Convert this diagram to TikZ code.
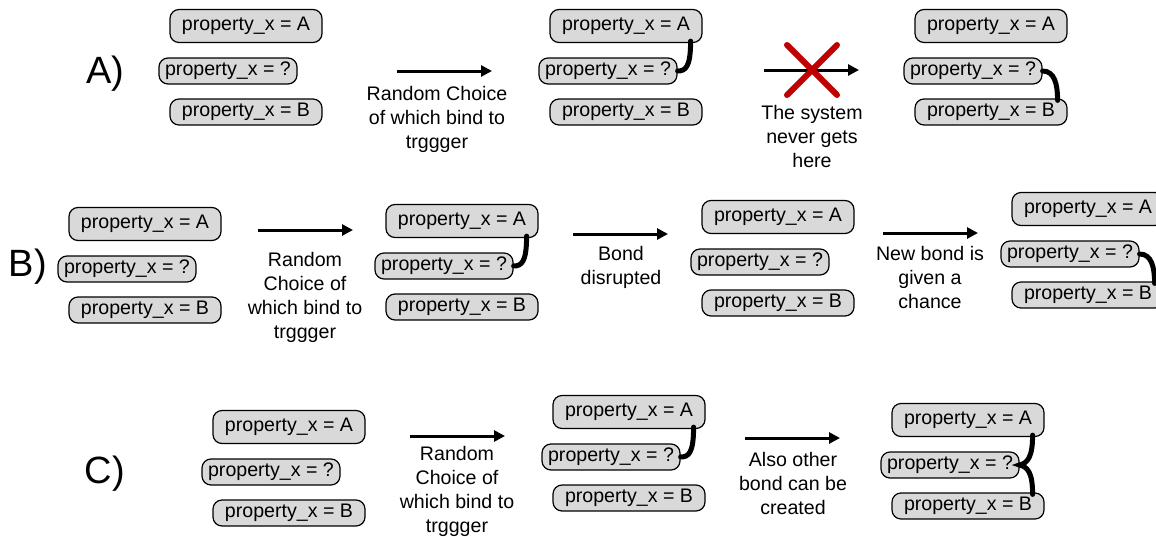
\documentclass[tikz,border=0pt]{standalone}
\usepackage{fontspec}
\setmainfont{Liberation Sans}
\usetikzlibrary{arrows.meta}
\definecolor{boxgray}{RGB}{217,217,217}
\definecolor{crossred}{RGB}{192,0,0}

\tikzset{
  prop/.style={draw, line width=0.6pt, fill=boxgray, rounded corners=4.5pt,
    minimum width=76pt, minimum height=13pt, inner sep=0pt,
    font=\fontsize{9.8}{12}\selectfont},
  top/.style={prop, minimum height=16.5pt},
  unk/.style={prop, minimum width=69pt},
  bond/.style={line width=2.5pt, line cap=round},
  move/.style={line width=1.5pt, -{Triangle[length=5.5pt,width=5.5pt]}},
  note/.style={align=center, font=\fontsize{9.8}{12}\selectfont},
  tag/.style={font=\fontsize{19}{22}\selectfont}
}

\begin{document}
\begin{tikzpicture}[x=0.5pt, y=-0.5pt]
	\useasboundingbox (0,-2) rectangle (1156,534);

	% row labels
	\node[tag] (rowA) at (105,72)  {A)};
	\node[tag] (rowB) at (28,265)  {B)};
	\node[tag] (rowC) at (105,472) {C)};

	% the three bind sites of every state
	\foreach \g/\x/\y in {1/246/24,2/626/24,3/991/24,4/145/222,5/462/219,
			6/778/215,7/1088/207,8/289/425,9/629/410,10/968/418}
	{
		\node[top]  (a\g) at (\x,\y)       {property\_x = A};
		\node[unk]  (q\g) at (\x-18,\y+45) {property\_x = ?};
		\node[prop] (b\g) at (\x,\y+86)    {property\_x = B};
	}

	% transitions
	\foreach \i/\x/\y in {1/397/69,2/764/68,3/258/228,4/573/232,5/883/231,
			6/410/434,7/745/436}
	{
		\coordinate (s\i) at (\x,\y);
		\coordinate (e\i) at (\x+95,\y);
		\draw[move] (s\i) -- (e\i);
	}

	\node[note] (n1) at (437,117) {Random Choice\\of which bind to\\trggger};
	\node[note] (n2) at (812,134) {The system\\never gets\\here};
	\node[note] (n3) at (305,295) {Random\\Choice of\\which bind to\\trggger};
	\node[note] (n4) at (621,265) {Bond\\disrupted};
	\node[note] (n5) at (930,275) {New bond is\\given a\\chance};
	\node[note] (n6) at (457,489) {Random\\Choice of\\which bind to\\trggger};
	\node[note] (n7) at (793,481) {Also other\\bond can be\\created};

	% forbidden transition
	\draw[crossred, line width=3pt, line cap=round] (787,43) -- (837,93);
	\draw[crossred, line width=3pt, line cap=round] (837,43) -- (787,93);

	% bonds A -- ?
	\foreach \g in {2,5,9}
	\draw[bond] ([xshift=-6pt,yshift=1pt]a\g.south east) .. controls +(0,26) and +(8,0) .. (q\g.east);

	% bonds ? -- B
	\foreach \g in {3,7}
	\draw[bond] (q\g.east) .. controls +(12,0) and +(0,-16) .. ([xshift=-5pt,yshift=-1pt]b\g.north east);

	% both bonds at once
	\draw[bond] ([xshift=-6pt,yshift=1pt]a10.south east) .. controls +(0,22) and +(8,-2) .. (q10.east)
		.. controls +(8,2) and +(0,-22) .. ([xshift=-6pt,yshift=-1pt]b10.north east);
\end{tikzpicture}
\end{document}
